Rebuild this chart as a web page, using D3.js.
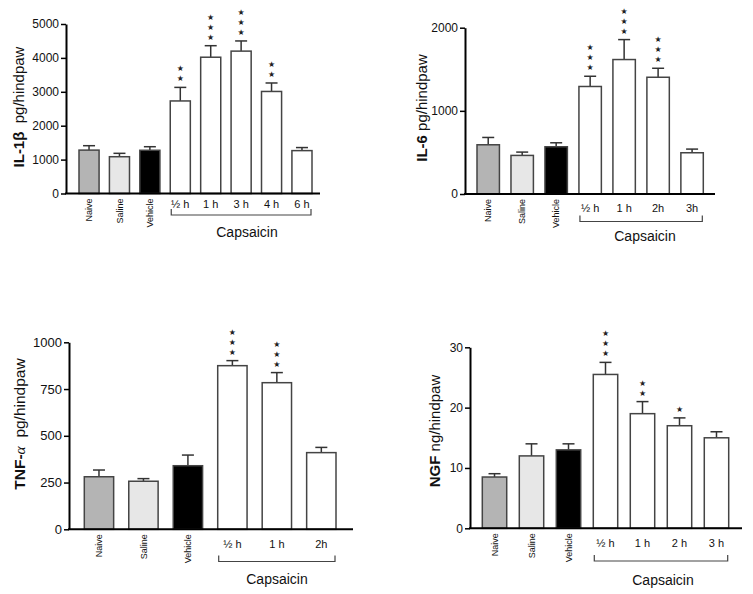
<!DOCTYPE html>
<html><head><meta charset="utf-8">
<script src="https://cdn.jsdelivr.net/npm/d3@7"></script>
<style>
body{margin:0;background:#fff;}
svg{display:block;font-family:Arial,"Liberation Sans",sans-serif;}
</style></head>
<body><svg id="c" width="753" height="594"></svg>
<script>
// ---- data ----
const controlCats = ["Naive", "Saline", "Vehicle"];

const il1Cats = ["Naive", "Saline", "Vehicle", "½ h", "1 h", "3 h", "4 h", "6 h"];
const il1Vals = [1280, 1085, 1275, 2730, 4020, 4200, 3010, 1265];
const il1Errs = [130, 100, 105, 400, 340, 300, 250, 90];
const il1Stars = [0, 0, 0, 2, 3, 3, 2, 0];
const il1Ticks = [0, 1000, 2000, 3000, 4000, 5000];

const il6Cats = ["Naive", "Saline", "Vehicle", "½ h", "1 h", "2h", "3h"];
const il6Vals = [592, 464, 568, 1293, 1617, 1404, 496];
const il6Errs = [88, 40, 48, 123, 240, 108, 44];
const il6Stars = [0, 0, 0, 3, 3, 3, 0];
const il6Ticks = [0, 1000, 2000];

const tnfCats = ["Naive", "Saline", "Vehicle", "½ h", "1 h", "2h"];
const tnfVals = [281, 257, 340, 875, 784, 410];
const tnfErrs = [36, 14, 57, 27, 54, 28];
const tnfStars = [0, 0, 0, 3, 3, 0];
const tnfTicks = [0, 250, 500, 750, 1000];

const ngfCats = ["Naive", "Saline", "Vehicle", "½ h", "1 h", "2 h", "3 h"];
const ngfVals = [8.5, 12.0, 13.0, 25.5, 19.0, 17.0, 15.0];
const ngfErrs = [0.55, 2.0, 1.0, 2.0, 2.0, 1.3, 1.0];
const ngfStars = [0, 0, 0, 3, 2, 1, 0];
const ngfTicks = [0, 10, 20, 30];

const groupLabel = "Capsaicin";
const fills = {"Naive": "#b4b4b4", "Saline": "#e7e7e7", "Vehicle": "#000000"};

// ---- layout ----
const panels = [
  {cats: il1Cats, vals: il1Vals, errs: il1Errs, stars: il1Stars, ticks: il1Ticks, max: 5000,
   axX: 66, axEnd: 320, yTop: 24, y0: 193.5, bars: [79, 312], tickFs: 12,
   lblDy: 14, brY: 215, capX: 247, capY: 237,
   title: ["IL-1β", "  pg/hindpaw"], titleX: 19, titleY: 107, titleFs: 15},
  {cats: il6Cats, vals: il6Vals, errs: il6Errs, stars: il6Stars, ticks: il6Ticks, max: 2000,
   axX: 465, axEnd: 715, yTop: 27.7, y0: 194, bars: [477, 703.3], tickFs: 12,
   lblDy: 18, brY: 221.5, capX: 645, capY: 240.5,
   title: ["IL-6", " pg/hindpaw"], titleX: 422, titleY: 108, titleFs: 15},
  {cats: tnfCats, vals: tnfVals, errs: tnfErrs, stars: tnfStars, ticks: tnfTicks, max: 1000,
   axX: 69, axEnd: 353, yTop: 342.3, y0: 529.3, bars: [84.3, 336], tickFs: 13,
   lblDy: 19, brY: 561.5, capX: 277, capY: 584,
   title: ["TNF-", "α", "  pg/hindpaw"], titleX: 20, titleY: 424, titleFs: 15.5},
  {cats: ngfCats, vals: ngfVals, errs: ngfErrs, stars: ngfStars, ticks: ngfTicks, max: 30,
   axX: 470, axEnd: 742, yTop: 347.3, y0: 528.3, bars: [482.3, 728.7], tickFs: 12,
   lblDy: 19, brY: 561, capX: 663, capY: 585,
   title: ["NGF", " ng/hindpaw"], titleX: 435, titleY: 431, titleFs: 15}
];

const svg = d3.select("#c");

panels.forEach(p => {
  const g = svg.append("g");
  const y = d3.scaleLinear().domain([0, p.max]).range([p.y0, p.yTop]);
  const x = d3.scaleBand().domain(p.cats).range(p.bars).paddingInner(0.34).paddingOuter(0);
  const bw = x.bandwidth();
  const data = p.cats.map((c, i) => ({c, v: p.vals[i], e: p.errs[i], s: p.stars[i]}));

  // error bars + significance stars
  data.forEach(d => {
    const cx = x(d.c) + bw / 2;
    const top = y(d.v + d.e);
    g.append("line").attr("x1", cx).attr("x2", cx).attr("y1", y(d.v)).attr("y2", top)
      .attr("stroke", "#333").attr("stroke-width", 1.5);
    g.append("line").attr("x1", cx - 6).attr("x2", cx + 6).attr("y1", top).attr("y2", top)
      .attr("stroke", "#333").attr("stroke-width", 1.5);
    for (let k = 0; k < d.s; k++) {
      const cy = top - 9 - k * 10;
      g.append("text").attr("x", cx).attr("y", cy + 3).attr("text-anchor", "middle")
        .attr("font-size", 8).attr("font-family", "'DejaVu Sans', sans-serif")
        .attr("fill", "#222").text("★");
    }
  });

  // bars
  g.selectAll("rect.bar").data(data).enter().append("rect")
    .attr("x", d => x(d.c)).attr("width", bw)
    .attr("y", d => y(d.v)).attr("height", d => y(0) - y(d.v))
    .attr("fill", d => fills[d.c] || "#ffffff")
    .attr("stroke", "#444").attr("stroke-width", 1.5);

  // y axis
  const ax = g.append("g").attr("transform", `translate(${p.axX},0)`)
    .call(d3.axisLeft(y).tickValues(p.ticks).tickFormat(d3.format("d"))
      .tickSize(5).tickSizeOuter(0).tickPadding(2));
  ax.select(".domain").attr("stroke", "#000").attr("stroke-width", 2);
  ax.selectAll(".tick line").attr("stroke", "#000").attr("stroke-width", 1.5);
  ax.selectAll(".tick text").attr("font-size", p.tickFs).attr("fill", "#111")
    .attr("font-family", "Arial, 'Liberation Sans', sans-serif");

  // x axis line
  g.append("line").attr("x1", p.axX - 1).attr("x2", p.axEnd).attr("y1", p.y0).attr("y2", p.y0)
    .attr("stroke", "#000").attr("stroke-width", 2);

  // category labels
  data.forEach(d => {
    const cx = x(d.c) + bw / 2;
    if (controlCats.includes(d.c)) {
      g.append("text").attr("transform", `translate(${cx},${p.y0 + 5}) rotate(-90)`)
        .attr("text-anchor", "end").attr("dy", "0.35em").attr("font-size", 9).attr("fill", "#111").text(d.c);
    } else {
      g.append("text").attr("x", cx).attr("y", p.y0 + p.lblDy).attr("text-anchor", "middle")
        .attr("font-size", 11).attr("fill", "#111").text(d.c);
    }
  });

  // Capsaicin bracket
  const capCats = p.cats.filter(c => !controlCats.includes(c));
  const bx1 = x(capCats[0]) + 1, bx2 = x(capCats[capCats.length - 1]) + bw - 1;
  g.append("path").attr("d", `M${bx1},${p.brY - 6}V${p.brY}H${bx2}V${p.brY - 6}`)
    .attr("fill", "none").attr("stroke", "#444").attr("stroke-width", 1.2);
  g.append("text").attr("x", p.capX).attr("y", p.capY).attr("text-anchor", "middle")
    .attr("font-size", 14).attr("fill", "#111").text(groupLabel);

  // y title
  const t = g.append("text").attr("transform", `translate(${p.titleX},${p.titleY}) rotate(-90)`)
    .attr("text-anchor", "middle").attr("dy", "0.35em").attr("font-size", p.titleFs).attr("fill", "#111")
    .attr("xml:space", "preserve").style("white-space", "pre");
  p.title.forEach((s, i) => {
    const ts = t.append("tspan").text(s);
    if (i === 0) ts.attr("font-weight", "bold");
    if (s === "α") ts.attr("font-style", "italic").attr("font-family", "'Liberation Serif', serif");
  });
});
</script>
</body></html>
